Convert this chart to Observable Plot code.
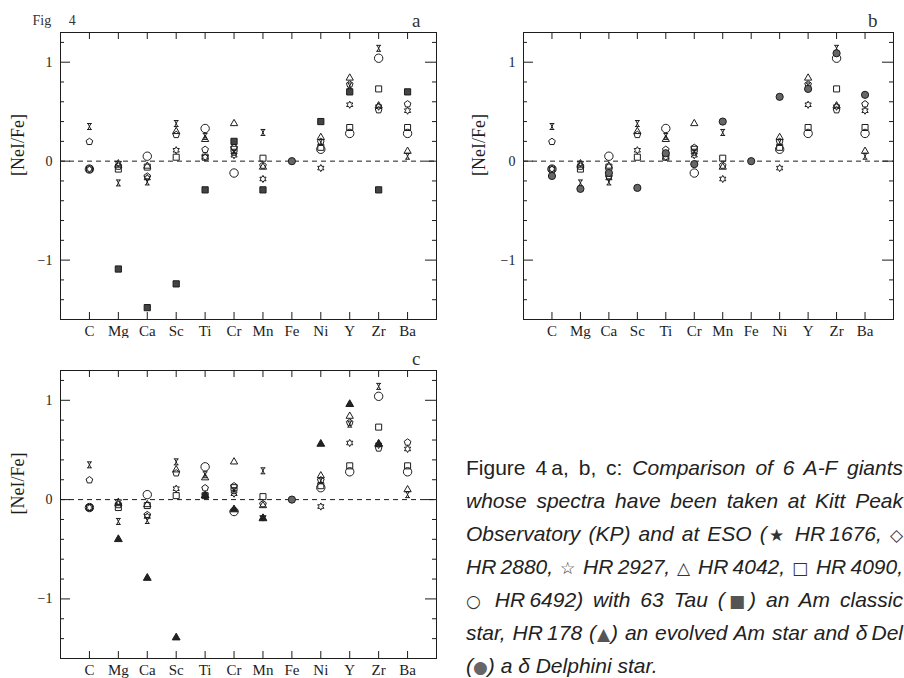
<!DOCTYPE html>
<html><head><meta charset="utf-8">
<script src="https://cdn.jsdelivr.net/npm/d3@7"></script>
<script src="https://cdn.jsdelivr.net/npm/@observablehq/plot@0.6"></script>
<style>
body{margin:0;background:#fff;}
#wrap{position:relative;width:904px;height:678px;overflow:hidden;background:#fff;}
.pn{position:absolute;}
#cap{position:absolute;left:466px;top:451px;width:437px;font-family:"Liberation Sans",Arial,sans-serif;font-size:21px;color:#222;}
#cap .ln{height:33px;line-height:33px;text-align:justify;text-align-last:justify;white-space:normal;}
#cap .ln.last{text-align-last:left;}
#cap i{font-style:italic;}
.sym{font-style:normal;font-family:"DejaVu Sans",sans-serif;font-size:17px;color:#333;}
</style></head><body>
<div id="wrap">
<div id="pa" class="pn" style="left:0;top:0"></div>
<div id="pb" class="pn" style="left:450px;top:0"></div>
<div id="pc" class="pn" style="left:0;top:338px"></div>
<div id="cap">
<div class="ln">Figure 4&#8239;a, b, c: <i>Comparison of 6 A-F giants</i></div>
<div class="ln"><i>whose spectra have been taken at Kitt Peak</i></div>
<div class="ln"><i>Observatory (KP) and at ESO (<span class="sym">★</span> HR&#8239;1676, <span class="sym">◇</span></i></div>
<div class="ln"><i>HR&#8239;2880, <span class="sym">☆</span> HR&#8239;2927, <span class="sym">△</span> HR&#8239;4042, <span class="sym">□</span> HR&#8239;4090,</i></div>
<div class="ln"><i><span class="sym">○</span> HR&#8239;6492) with 63 Tau (<span class="sym" style="color:#555">■</span>) an Am classic</i></div>
<div class="ln"><i>star, HR&#8239;178 (<span class="sym" style="color:#555">▲</span>) an evolved Am star and δ&#8239;Del</i></div>
<div class="ln last"><i>(<span class="sym" style="color:#666">●</span>) a δ Delphini star.</i></div>
</div>
</div>
<script>
// ---- data ----
const elements = ["C","Mg","Ca","Sc","Ti","Cr","Mn","Fe","Ni","Y","Zr","Ba"];
const hr1676 = [0.35,-0.22,-0.21,0.38,0.25,0.09,0.29,null,0.19,0.76,1.14,0.05];
const hr2880 = [0.20,-0.05,-0.15,0.27,0.12,0.14,-0.04,null,0.20,0.78,0.52,0.58];
const hr2927 = [-0.08,-0.02,-0.17,0.11,0.04,0.06,-0.18,null,-0.07,0.57,0.55,0.51];
const hr4042 = [null,-0.04,-0.05,0.30,0.22,0.38,-0.06,null,0.24,0.84,0.56,0.10];
const hr4090 = [-0.08,-0.08,-0.06,0.04,0.04,0.12,0.03,null,0.14,0.34,0.73,0.34];
const hr6492 = [-0.08,null,0.05,null,0.33,-0.12,null,null,0.12,0.28,1.04,0.28];
const tau63  = [null,-1.09,-1.48,-1.24,-0.29,0.20,-0.29,null,0.40,0.70,-0.29,0.70];
const delDel = [-0.15,-0.28,-0.12,-0.27,0.08,-0.03,0.40,null,0.65,0.73,1.09,0.67];
const hr178  = [null,-0.40,-0.79,-1.39,0.04,-0.10,-0.19,null,0.56,0.96,0.56,null];
const feValue = [0];
const yMajor = [-1,0,1];
const yMinor = [-1.4,-1.2,-0.8,-0.6,-0.4,-0.2,0.2,0.4,0.6,0.8,1.2];
const yLabels = ["−1","0","1"];

// ---- custom symbols ----
const symHour = {draw(ctx,size){const r=Math.sqrt(size/Math.PI);
  ctx.moveTo(-0.8*r,-r);ctx.lineTo(0.8*r,-r);ctx.moveTo(-0.8*r,r);ctx.lineTo(0.8*r,r);
  ctx.moveTo(-0.5*r,-r);ctx.lineTo(0.5*r,r);ctx.moveTo(0.5*r,-r);ctx.lineTo(-0.5*r,r);}};
const symPent = {draw(ctx,size){const r=Math.sqrt(size/Math.PI);
  for(let i=0;i<5;i++){const a=-Math.PI/2+i*2*Math.PI/5;const x=r*Math.cos(a),y=r*Math.sin(a)+0.1*r;i?ctx.lineTo(x,y):ctx.moveTo(x,y);}ctx.closePath();}};
const symStar6 = {draw(ctx,size){const r=Math.sqrt(size/Math.PI);
  for(let i=0;i<12;i++){const a=-Math.PI/2+i*Math.PI/6;const rr=i%2?0.55*r:r;const x=rr*Math.cos(a),y=rr*Math.sin(a);i?ctx.lineTo(x,y):ctx.moveTo(x,y);}ctx.closePath();}};

const rows = arr => arr.map((v,i)=>({i:i+1,v})).filter(d=>d.v!=null);
const giants = [
  {v:hr1676, symbol:symHour, r:3},
  {v:hr2880, symbol:symPent, r:3.5},
  {v:hr2927, symbol:symStar6, r:3.6},
  {v:hr4042, symbol:"triangle", r:2.7},
  {v:hr4090, symbol:"square", r:3.4},
  {v:hr6492, symbol:"circle", r:4.2}
];
const ink = "#1c1c1c";

function panel(o){
  const iw=o.width-o.ml-o.mr, ih=o.height-o.mt-o.mb;
  const kx=iw/13, ky=ih/2.9;
  const idx=elements.map((d,i)=>i+1);
  const feX=elements.indexOf("Fe")+1;
  const marks=[
    Plot.ruleY([0],{stroke:ink,strokeDasharray:"5,4",strokeWidth:1}),
    Plot.ruleX(idx,{x:d=>d,y1:1.3,y2:1.3-7/ky,stroke:ink}),
    Plot.ruleX(idx,{x:d=>d,y1:-1.6,y2:-1.6+7/ky,stroke:ink}),
    Plot.ruleY(yMajor,{y:d=>d,x1:0,x2:10/kx,stroke:ink}),
    Plot.ruleY(yMajor,{y:d=>d,x1:13,x2:13-11/kx,stroke:ink}),
    Plot.ruleY(yMinor,{y:d=>d,x1:0,x2:4/kx,stroke:ink}),
    Plot.ruleY(yMinor,{y:d=>d,x1:13,x2:13-4/kx,stroke:ink}),
    Plot.frame({stroke:ink,strokeWidth:1})
  ];
  for(const g of giants){
    marks.push(Plot.dot(rows(g.v),{x:"i",y:"v",symbol:g.symbol,r:g.r,stroke:ink,fill:"none",strokeWidth:1}));
  }
  marks.push(Plot.dot(rows(o.comp),{x:"i",y:"v",symbol:o.compSym,r:o.compR,fill:o.compFill,stroke:ink,strokeWidth:1}));
  marks.push(Plot.dot(feValue,{x:()=>feX,y:d=>d,symbol:"circle",r:3.6,fill:"#666",stroke:ink,strokeWidth:1}));
  marks.push(Plot.axisX(idx,{anchor:"bottom",label:null,tickSize:0,tickPadding:6,tickFormat:i=>elements[i-1],fontSize:15,fontFamily:"Liberation Serif",fill:ink}));
  marks.push(Plot.axisY(yMajor,{anchor:"left",label:null,tickSize:0,tickPadding:8,tickFormat:d=>yLabels[yMajor.indexOf(d)],fontSize:14,fontFamily:"Liberation Serif",fill:ink}));
  marks.push(Plot.text(["[NeI/Fe]"],{frameAnchor:"left",rotate:-90,dx:o.labDx,fontFamily:"Liberation Serif",fontSize:18,fill:ink}));
  marks.push(Plot.text([o.letter],{frameAnchor:"top-right",textAnchor:"end",lineAnchor:"bottom",dx:-16,dy:-6,fontFamily:"Liberation Serif",fontSize:19,fill:"#333"}));
  if(o.fig) marks.push(Plot.text([o.fig],{frameAnchor:"top-left",textAnchor:"start",lineAnchor:"bottom",dx:-28,dy:-8,fontFamily:"Liberation Serif",fontSize:14,fill:"#333"}));
  return Plot.plot({
    width:o.width,height:o.height,marginLeft:o.ml,marginRight:o.mr,marginTop:o.mt,marginBottom:o.mb,
    x:{domain:[0,13]}, y:{domain:[-1.6,1.3]},
    style:{background:"white",color:ink,fontFamily:"Liberation Serif",overflow:"visible"},
    marks
  });
}

document.getElementById("pa").append(panel({width:450,height:345,ml:60,mr:14,mt:32,mb:26,comp:tau63,compSym:"square",compR:3.5,compFill:"#444",letter:"a",fig:"Fig\u00a0\u00a0\u00a0\u00a0\u00a04",labDx:-42}));
document.getElementById("pb").append(panel({width:454,height:345,ml:73,mr:11,mt:32,mb:26,comp:delDel,compSym:"circle",compR:3.6,compFill:"#666",letter:"b",labDx:-44}));
document.getElementById("pc").append(panel({width:450,height:340,ml:60,mr:14,mt:32,mb:20,comp:hr178,compSym:"triangle",compR:2.9,compFill:"#222",letter:"c",labDx:-42}));
</script>
</body></html>
